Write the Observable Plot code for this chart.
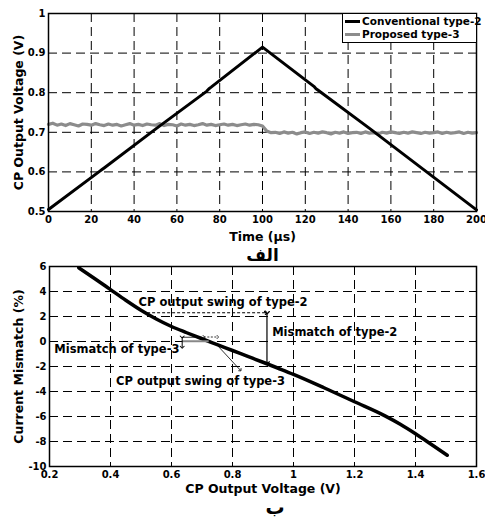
<!DOCTYPE html>
<html><head><meta charset="utf-8">
<script src="https://cdn.jsdelivr.net/npm/d3@7"></script>
<script src="https://cdn.jsdelivr.net/npm/@observablehq/plot@0.6"></script>
<style>
body{margin:0;background:#fff;font-family:"DejaVu Sans",sans-serif;}
#wrap{position:relative;width:485px;height:518px;}
#wrap svg{display:block;}
#legend{position:absolute;left:342px;top:13px;width:135px;height:30px;border:1px solid #000;background:#fff;box-sizing:border-box;font:bold 10.5px "DejaVu Sans",sans-serif;color:#000;}
#legend .row{position:absolute;left:2px;height:13px;line-height:13px;white-space:nowrap;}
#legend .sw{display:inline-block;width:15px;height:3px;vertical-align:middle;margin-right:2px;position:relative;top:-1px;}
</style></head>
<body>
<div id="wrap"></div>
<script>
// ---------- Panel (الف): CP output voltage vs time ----------
const timeTicks = [0, 20, 40, 60, 80, 100, 120, 140, 160, 180, 200];
const voltTicks = [0.5, 0.6, 0.7, 0.8, 0.9, 1];
const seriesNames = ["Conventional type-2", "Proposed type-3"];
const seriesColors = ["#000000", "#8c8c8c"];

// Conventional type-2 (black triangle ramp)
const convTime = [0, 24, 25, 26, 50, 74, 75, 76, 100, 124, 125, 126, 150, 175, 200];
const convVolt = [0.505, 0.602, 0.606, 0.610, 0.708, 0.804, 0.810, 0.814, 0.915, 0.816, 0.810, 0.806, 0.710, 0.607, 0.504];

// Proposed type-3 (gray, noisy ~0.72 then ~0.70), sampled every 2 µs
const propStep = 2;
const propVolt = [
 0.720,0.723,0.718,0.721,0.717,0.722,0.719,0.716,0.721,0.720,
 0.718,0.722,0.719,0.717,0.721,0.718,0.720,0.716,0.719,0.722,
 0.718,0.720,0.717,0.721,0.719,0.718,0.722,0.717,0.720,0.719,
 0.716,0.721,0.718,0.720,0.717,0.719,0.722,0.718,0.720,0.717,
 0.719,0.721,0.718,0.720,0.717,0.719,0.721,0.718,0.720,0.719,
 0.716,
 0.703,0.699,0.700,0.697,0.701,0.698,0.700,0.696,0.699,0.701,
 0.697,0.700,0.698,0.701,0.699,0.696,0.700,0.698,0.701,0.697,
 0.699,0.700,0.697,0.701,0.698,0.699,0.696,0.700,0.698,0.701,
 0.699,0.697,0.700,0.698,0.701,0.699,0.697,0.700,0.698,0.699,
 0.701,0.697,0.700,0.698,0.699,0.701,0.697,0.700,0.698,0.699
];

const topXLabel = "Time (μs)";
const topYLabel = "CP Output Voltage (V)";
const topCaption = "الف";

// ---------- Panel (ب): current mismatch vs CP output voltage ----------
const cpTicks = [0.2, 0.4, 0.6, 0.8, 1, 1.2, 1.4, 1.6];
const misTicks = [-10, -8, -6, -4, -2, 0, 2, 4, 6];
const curveV = [0.296, 0.35, 0.40, 0.45, 0.50, 0.55, 0.60, 0.65, 0.70, 0.75, 0.80, 0.85, 0.90, 0.95, 1.0, 1.1, 1.2, 1.3, 1.35, 1.4, 1.45, 1.504];
const curveM = [5.9, 5.0, 4.15, 3.3, 2.5, 1.8, 1.2, 0.7, 0.22, -0.25, -0.72, -1.19, -1.66, -2.14, -2.63, -3.7, -4.82, -5.95, -6.62, -7.38, -8.2, -9.1];
const botXLabel = "CP Output Voltage (V)";
const botYLabel = "Current Mismatch (%)";
const botCaption = "ب";

// annotations (data coordinates)
const swing2Label = {s: "CP output swing of type-2", x: 0.769, y: 3.1};
const mis2Label = {s: "Mismatch of type-2", x: 0.93, y: 0.7};
const mis3Label = {s: "Mismatch of type-3", x: 0.626, y: -0.6};
const swing3Label = {s: "CP output swing of type-3", x: 0.695, y: -3.2};
// swing of type-2 (dashed), mismatch of type-2 (vertical double arrow)
const swing2 = {x1: 0.52, y1: 2.3, x2: 0.91, y2: 2.3};
const mis2 = {x1: 0.913, y1: 2.3, x2: 0.913, y2: -1.72};
// mismatch of type-3 (small vertical double arrow) and its guide lines
const mis3 = {x1: 0.635, y1: 0.36, x2: 0.635, y2: -0.46};
const mis3Guide = {x1: 0.635, y1: 0.02, x2: 0.722, y2: 0.02};
const mis3GuideTop = {x1: 0.635, y1: 0.34, x2: 0.70, y2: 0.34};
// swing of type-3 (small dotted double arrow) and pointer
const swing3 = {x1: 0.706, y1: 0.36, x2: 0.752, y2: 0.36};
const swing3Pointer = {x1: 0.75, y1: -0.3, x2: 0.826, y2: -2.3};

const FONT = "DejaVu Sans, Verdana, sans-serif";
const ARABIC_FONT = "DejaVu Sans, Noto Sans, sans-serif";
const fmt = d => String(d);

const wrap = document.getElementById("wrap");

const convData = convTime.map((t, i) => ({t, v: convVolt[i]}));
const propData = propVolt.map((v, i) => ({t: i * propStep, v}));

const titleStyle = {fontSize: 12.5, fontWeight: "bold", fill: "#000", textAnchor: "middle", lineAnchor: "middle"};
const captionStyle = {...titleStyle, fontSize: 17, fontFamily: ARABIC_FONT};

const topPlot = Plot.plot({
  width: 485, height: 258,
  marginTop: 13, marginBottom: 47, marginLeft: 48, marginRight: 9,
  style: {fontFamily: FONT, fontSize: "10px", fontWeight: "bold", color: "#000", background: "transparent", overflow: "visible"},
  x: {domain: [0, 200], ticks: timeTicks, tickSize: 0, tickPadding: 4, tickFormat: fmt, label: null},
  y: {domain: [0.5, 1], ticks: voltTicks, tickSize: 0, tickPadding: 3, tickFormat: fmt, label: null},
  marks: [
    Plot.gridX(timeTicks, {stroke: "#000", strokeOpacity: 1, strokeWidth: 1, strokeDasharray: "9,5"}),
    Plot.gridY(voltTicks, {stroke: "#000", strokeOpacity: 1, strokeWidth: 1, strokeDasharray: "9,5"}),
    Plot.line(propData, {x: "t", y: "v", stroke: seriesColors[1], strokeWidth: 3.2}),
    Plot.line(convData, {x: "t", y: "v", stroke: seriesColors[0], strokeWidth: 3}),
    Plot.frame({stroke: "#000", strokeWidth: 1.5}),
    Plot.text([topXLabel], {frameAnchor: "bottom", dy: 25, ...titleStyle}),
    Plot.text([topCaption], {frameAnchor: "bottom", dy: 44, ...captionStyle}),
    Plot.text([topYLabel], {frameAnchor: "left", dx: -30, rotate: -90, ...titleStyle})
  ]
});
topPlot.style.position = "relative";
topPlot.style.zIndex = "2";
wrap.appendChild(topPlot);

const curveData = curveV.map((v, i) => ({v, m: curveM[i]}));
const L = o => [o];
const annoStyle = {x: "x", y: "y", text: "s", fontSize: 11.5, fontWeight: "bold", fill: "#000", lineAnchor: "middle"};
const linkCh = {x1: "x1", y1: "y1", x2: "x2", y2: "y2"};

const botPlot = Plot.plot({
  width: 485, height: 260,
  marginTop: 8, marginBottom: 52, marginLeft: 49, marginRight: 9,
  style: {fontFamily: FONT, fontSize: "10px", fontWeight: "bold", color: "#000", background: "transparent", overflow: "visible"},
  x: {domain: [0.2, 1.6], ticks: cpTicks, tickSize: 0, tickPadding: 4, tickFormat: fmt, label: null},
  y: {domain: [-10, 6], ticks: misTicks, tickSize: 0, tickPadding: 3, tickFormat: fmt, label: null},
  marks: [
    Plot.gridX(cpTicks, {stroke: "#000", strokeOpacity: 1, strokeWidth: 1, strokeDasharray: "9,5"}),
    Plot.gridY(misTicks, {stroke: "#000", strokeOpacity: 1, strokeWidth: 1, strokeDasharray: "9,5"}),
    Plot.line(curveData, {x: "v", y: "m", stroke: "#000", strokeWidth: 3.5, curve: "monotone-x"}),
    // annotations
    Plot.link(L(swing2), {...linkCh, stroke: "#000", strokeWidth: 1, strokeDasharray: "3,2", markerEnd: "arrow"}),
    Plot.link(L(mis2), {...linkCh, stroke: "#000", strokeWidth: 1.2, markerStart: "arrow", markerEnd: "arrow"}),
    Plot.link(L(mis3GuideTop), {...linkCh, stroke: "#000", strokeWidth: 0.8}),
    Plot.link(L(mis3Guide), {...linkCh, stroke: "#888", strokeWidth: 2}),
    Plot.link(L(mis3), {...linkCh, stroke: "#000", strokeWidth: 1, markerStart: "arrow", markerEnd: "arrow"}),
    Plot.link(L(swing3), {...linkCh, stroke: "#000", strokeWidth: 0.8, strokeDasharray: "2,1.5", markerStart: "arrow", markerEnd: "arrow"}),
    Plot.link(L(swing3Pointer), {...linkCh, stroke: "#000", strokeWidth: 0.8, markerEnd: "arrow"}),
    Plot.text(L(swing2Label), {...annoStyle, textAnchor: "middle"}),
    Plot.text(L(mis2Label), {...annoStyle, textAnchor: "start"}),
    Plot.text(L(mis3Label), {...annoStyle, textAnchor: "end"}),
    Plot.text(L(swing3Label), {...annoStyle, textAnchor: "middle"}),
    Plot.frame({stroke: "#000", strokeWidth: 1.5}),
    Plot.text([botXLabel], {frameAnchor: "bottom", dy: 22, ...titleStyle}),
    Plot.text([botCaption], {frameAnchor: "bottom", dy: 41, dx: 12, ...captionStyle, fontSize: 19}),
    Plot.text([botYLabel], {frameAnchor: "left", dx: -31, rotate: -90, ...titleStyle})
  ]
});
botPlot.style.position = "relative";
botPlot.style.zIndex = "1";
wrap.appendChild(botPlot);

// legend (HTML, placed over the upper-right corner of the top panel)
const legend = document.createElement("div");
legend.id = "legend";
legend.style.zIndex = "3";
seriesNames.forEach((name, i) => {
  const row = document.createElement("div");
  row.className = "row";
  row.style.top = (1 + i * 13) + "px";
  const sw = document.createElement("span");
  sw.className = "sw";
  sw.style.background = seriesColors[i];
  row.appendChild(sw);
  row.appendChild(document.createTextNode(name));
  legend.appendChild(row);
});
wrap.appendChild(legend);
</script>
</body></html>
